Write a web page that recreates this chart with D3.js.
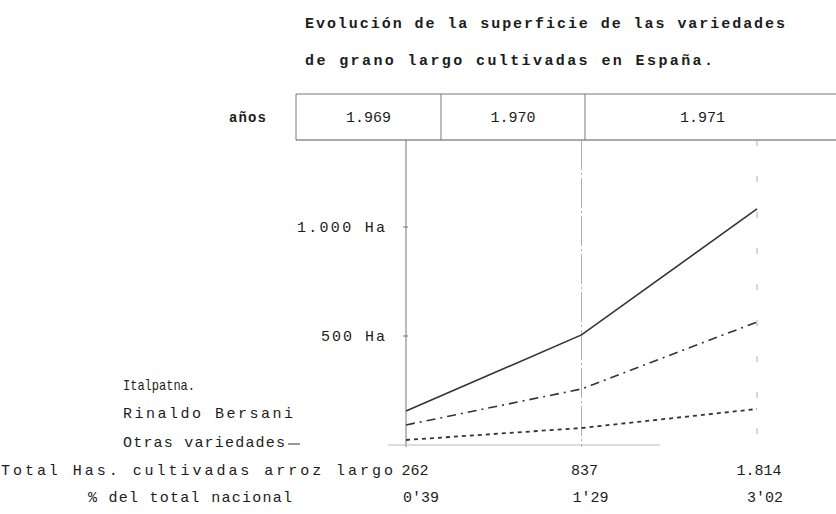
<!DOCTYPE html>
<html>
<head>
<meta charset="utf-8">
<script src="https://cdn.jsdelivr.net/npm/d3@7"></script>
<style>
  body { margin: 0; background: #fff; }
  text { font-family: "Liberation Mono", "DejaVu Sans Mono", monospace; fill: #1c1c1c; }
</style>
</head>
<body>
<div id="chart"></div>
<script>
// Evolucion de la superficie - grano largo

// Data
var years = ['1.969', '1.970', '1.971']
var italpatna = [156, 505, 1083]
var rinaldo = [92, 257, 564]
var otras = [23, 78, 165]
var totals = ['262', '837', '1.814']
var pctNacional = ["0'39", "1'29", "3'02"]
var yTicks = [500, 1000]
var yTickLabels = ['500 Ha', '1.000 Ha']

var W = 836, H = 514

var svg = d3.select('#chart')
  .append('svg')
    .attr('width', W)
    .attr('height', H)

// scales
var x = d3.scalePoint().domain(years).range([406, 757])
var y = d3.scaleLinear().domain([0, 1000]).range([445, 227])

// typewriter-ish text, stretched to the width it has in the picture
function typed(txt, tx, ty, len, size, weight, adjust) {
  return svg.append('text')
    .attr('x', tx)
    .attr('y', ty)
    .attr('font-size', size || 15)
    .attr('font-weight', weight || 'normal')
    .attr('textLength', len)
    .attr('lengthAdjust', adjust || 'spacing')
    .text(txt)
}

// title
typed('Evolución de la superficie de las variedades', 305, 28, 480, 15, 'bold')
typed('de grano largo cultivadas en España.', 305, 65, 408, 15, 'bold')

// header box with years
var cellEdges = [296, 441, 585, 836]
var box = svg.append('g').attr('stroke', '#555').attr('fill', 'none')
box.append('line').attr('x1', cellEdges[0]).attr('x2', W).attr('y1', 94).attr('y2', 94).attr('stroke-width', 0.8)
box.append('line').attr('x1', cellEdges[0]).attr('x2', W).attr('y1', 140).attr('y2', 140).attr('stroke-width', 1)
cellEdges.slice(0, 3).forEach(function (cx) {
  box.append('line').attr('x1', cx).attr('x2', cx).attr('y1', 94).attr('y2', 140).attr('stroke-width', 0.8)
})
typed('años', 229, 122, 37, 14, 'bold')
svg.selectAll('text.year')
  .data(years)
  .enter()
  .append('text')
    .attr('class', 'year')
    .attr('x', (d, i) => (cellEdges[i] + cellEdges[i + 1]) / 2 - (i == 2 ? 8 : 0))
    .attr('y', 122)
    .attr('text-anchor', 'middle')
    .attr('font-size', 15)
    .text((d) => d)

// axis + vertical guides
svg.append('line')
  .attr('x1', x(years[0])).attr('x2', x(years[0]))
  .attr('y1', 140).attr('y2', y(0) + 2)
  .attr('stroke', '#777').attr('stroke-width', 1)
svg.selectAll('line.guide')
  .data(years.slice(1))
  .enter()
  .append('line')
    .attr('class', 'guide')
    .attr('x1', (d) => x(d)).attr('x2', (d) => x(d))
    .attr('y1', 140).attr('y2', y(0) + 2)
    .attr('stroke', '#999')
    .attr('stroke-width', 0.8)
    .attr('stroke-dasharray', (d, i) => i == 0 ? '30 3 2 3' : '6 30')
svg.append('line')
  .attr('x1', 388).attr('x2', 660)
  .attr('y1', y(0)).attr('y2', y(0))
  .attr('stroke', '#bbb').attr('stroke-width', 1)

// y ticks
svg.selectAll('line.tick')
  .data(yTicks)
  .enter()
  .append('line')
    .attr('class', 'tick')
    .attr('x1', x(years[0]) - 3).attr('x2', x(years[0]) + 2)
    .attr('y1', (d) => y(d)).attr('y2', (d) => y(d))
    .attr('stroke', '#777')
var yLabelWidth = { 500: 64, 1000: 88 }
svg.selectAll('text.ytick')
  .data(yTicks)
  .enter()
  .append('text')
    .attr('class', 'ytick')
    .attr('x', (d) => 385 - yLabelWidth[d])
    .attr('y', (d) => y(d) + 5)
    .attr('font-size', 15)
    .attr('textLength', (d) => yLabelWidth[d])
    .attr('lengthAdjust', 'spacing')
    .text((d, i) => yTickLabels[i])

// series lines
var line = d3.line()
  .x((d, i) => x(years[i]))
  .y((d) => y(d))

var series = [
  { name: 'Italpatna', values: italpatna, dash: null, width: 1.6 },
  { name: 'Rinaldo Bersani', values: rinaldo, dash: '9 5 2 5', width: 1.6 },
  { name: 'Otras variedades', values: otras, dash: '4 4', width: 1.8 },
]
svg.selectAll('path.serie')
  .data(series)
  .enter()
  .append('path')
    .attr('class', 'serie')
    .attr('d', (d) => line(d.values))
    .attr('fill', 'none')
    .attr('stroke', '#333')
    .attr('stroke-width', (d) => d.width)
    .attr('stroke-dasharray', (d) => d.dash)

// row labels on the left
typed('Italpatna.', 123, 390, 72, 15, 'normal', 'spacingAndGlyphs')
typed('Rinaldo Bersani', 123, 418, 170)
typed('Otras variedades', 123, 447, 162)
svg.append('line').attr('x1', 288).attr('x2', 300).attr('y1', 444).attr('y2', 444).attr('stroke', '#333')
typed('Total Has. cultivadas arroz largo', 1, 475, 392)
typed('% del total nacional', 88, 502, 204)

// bottom values
var valueShift = [9, 3, 2]
svg.selectAll('text.total')
  .data(totals)
  .enter()
  .append('text')
    .attr('class', 'total')
    .attr('x', (d, i) => x(years[i]) + valueShift[i])
    .attr('y', 475)
    .attr('text-anchor', 'middle')
    .attr('font-size', 15)
    .text((d) => d)
svg.selectAll('text.pct')
  .data(pctNacional)
  .enter()
  .append('text')
    .attr('class', 'pct')
    .attr('x', (d, i) => x(years[i]) + valueShift[i] + 6)
    .attr('y', 502)
    .attr('text-anchor', 'middle')
    .attr('font-size', 15)
    .text((d) => d)
</script>
</body>
</html>
